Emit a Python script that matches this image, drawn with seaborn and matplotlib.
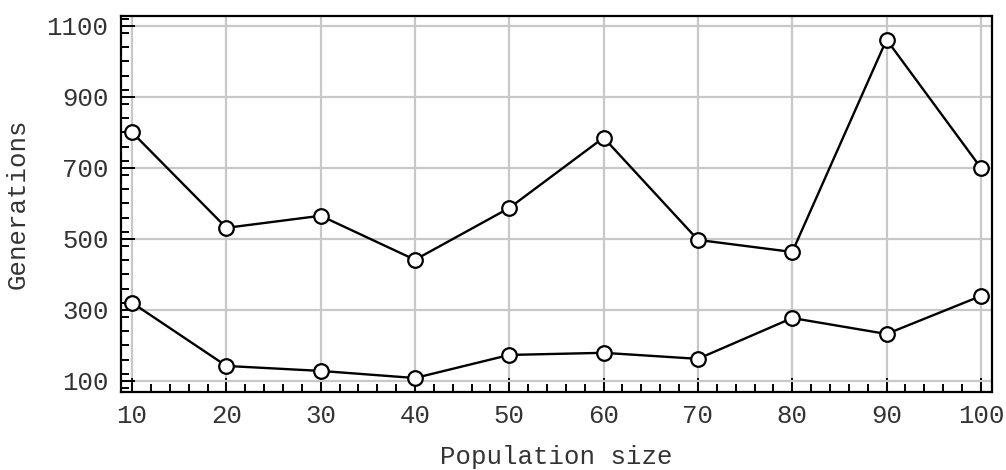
import matplotlib
matplotlib.use("Agg")
import matplotlib.pyplot as plt
from matplotlib.ticker import MultipleLocator
import pandas as pd
import seaborn as sns

population = [10, 20, 30, 40, 50, 60, 70, 80, 90, 100]
upper_gens = [800, 531, 565, 441, 587, 785, 497, 463, 1061, 700]
lower_gens = [320, 142, 128, 108, 173, 179, 162, 277, 232, 339]

sns.set_style("white")
plt.rcParams["font.family"] = ["Liberation Mono", "DejaVu Sans Mono"]

df = pd.DataFrame({
    "Population size": population * 2,
    "Generations": upper_gens + lower_gens,
    "series": ["upper"] * len(population) + ["lower"] * len(population),
})

fig = plt.figure(figsize=(10.06, 4.70), dpi=100)
ax = fig.add_axes([0.1203, 0.167, 0.8657, 0.800])

sns.lineplot(
    data=df, x="Population size", y="Generations", units="series",
    estimator=None, color="black", linewidth=1.7, marker="o",
    markersize=10.5, markerfacecolor="white", markeredgecolor="black",
    markeredgewidth=1.6, ax=ax, zorder=3,
)

ax.set_xlim(8.83, 101.17)
ax.set_ylim(70, 1129)
ax.xaxis.set_major_locator(MultipleLocator(10))
ax.xaxis.set_minor_locator(MultipleLocator(2))
ax.yaxis.set_major_locator(MultipleLocator(200))
ax.yaxis.set_minor_locator(MultipleLocator(40))
ax.set_yticks(range(100, 1101, 200))

ax.grid(True, which="major", color="#c8c8c8", linewidth=1.6, zorder=0)
ax.set_axisbelow(True)

for s in ax.spines.values():
    s.set_color("black")
    s.set_linewidth(1.6)

ax.tick_params(which="both", direction="in", left=True, bottom=True,
               right=False, top=False, color="black", width=1.4)
ax.tick_params(which="major", length=10, labelsize=18.5, pad=9,
               labelcolor="#333333")
ax.tick_params(which="minor", length=6)

ax.set_xlabel("Population size", fontsize=18.5, labelpad=12, color="#333333")
ax.set_ylabel("Generations", fontsize=18.5, labelpad=12, color="#333333")

fig.savefig("out.png", dpi=100)
